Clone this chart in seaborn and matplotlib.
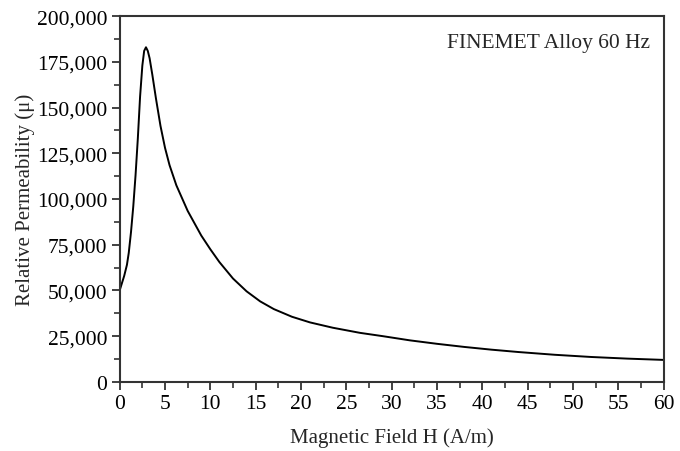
import numpy as np
import pandas as pd
import seaborn as sns
import matplotlib.pyplot as plt
from matplotlib.ticker import MultipleLocator, FuncFormatter

# values
field_h = [0, 0.5, 0.8, 1.0, 1.25, 1.5, 1.75, 2.0, 2.25, 2.5, 2.7, 2.9, 3.1, 3.3,
           3.6, 4.0, 4.5, 5.0, 5.5, 6.25, 7.5, 9.0, 10.0, 11.0, 12.5, 14.0,
           15.5, 17.0, 19.0, 21.0, 23.5, 26.5, 29.0, 32.0, 35.0, 38.0, 41.0,
           44.0, 48.0, 52.0, 56.0, 60.0]
permeability = [50000, 58000, 64000, 70500, 82000, 96000, 113000, 133000, 156000,
                173000, 181000, 183000, 181000, 177000, 168000, 155000, 140000,
                128000, 118500, 107500, 93500, 80000, 72500, 65500, 56500, 49500,
                44000, 39800, 35600, 32500, 29600, 26800, 25000, 22700, 20800,
                19100, 17600, 16300, 14800, 13600, 12700, 12000]

df = pd.DataFrame({"H": field_h, "mu": permeability})

sns.set_style("ticks")
plt.rcParams["font.family"] = ["Liberation Serif", "DejaVu Serif"]

fig = plt.figure(figsize=(6.8, 4.52), dpi=100)
ax = fig.add_axes([0.176, 0.153, 0.8, 0.809])

sns.lineplot(data=df, x="H", y="mu", ax=ax, color="black", linewidth=1.4)

ax.set_xlim(0, 60)
ax.set_ylim(0, 200000)
ax.xaxis.set_major_locator(MultipleLocator(5))
ax.xaxis.set_minor_locator(MultipleLocator(2.5))
ax.yaxis.set_major_locator(MultipleLocator(25000))
ax.yaxis.set_minor_locator(MultipleLocator(12500))
ax.yaxis.set_major_formatter(FuncFormatter(lambda v, p: f"{int(v):,}"))

for s in ax.spines.values():
    s.set_visible(True)
    s.set_color("#333333")
    s.set_linewidth(1.5)

ax.tick_params(axis="both", which="major", direction="out", length=6, width=1.3,
               color="#333333", labelsize=15.5, labelcolor="black", pad=3)
ax.tick_params(axis="both", which="minor", direction="out", length=4, width=1.2,
               color="#333333")
ax.tick_params(top=False, right=False, which="both")

ax.set_xlabel("Magnetic Field H (A/m)", fontsize=15, labelpad=10)
ax.set_ylabel("Relative Permeability (\u03bc)", fontsize=15, labelpad=1)

ax.text(0.975, 0.955, "FINEMET Alloy 60 Hz", transform=ax.transAxes,
        ha="right", va="top", fontsize=15.5)

fig.savefig("out.png", dpi=100)
